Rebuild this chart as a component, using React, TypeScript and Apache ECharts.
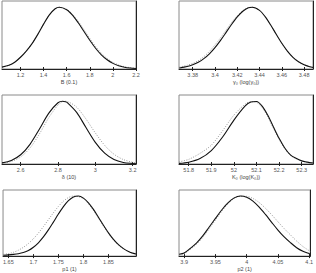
import React, { useEffect, useRef } from "react";
import * as echarts from "echarts";

// Panel 1: B (0.1)
const bX = [1.04, 1.1, 1.15, 1.2, 1.25, 1.3, 1.35, 1.4, 1.45, 1.5, 1.535, 1.6, 1.65, 1.7, 1.75, 1.8, 1.85, 1.9, 1.95, 2.0, 2.05, 2.1, 2.15, 2.2];
const bSolid = [0.03, 0.06, 0.11, 0.19, 0.29, 0.41, 0.56, 0.726, 0.876, 0.974, 1.0, 0.96, 0.872, 0.748, 0.607, 0.465, 0.336, 0.23, 0.149, 0.091, 0.052, 0.028, 0.015, 0.008];
const bDotted = [0.03, 0.06, 0.11, 0.19, 0.29, 0.41, 0.565, 0.73, 0.875, 0.97, 0.998, 0.965, 0.885, 0.77, 0.635, 0.495, 0.365, 0.255, 0.17, 0.108, 0.065, 0.038, 0.022, 0.012];
const bTicks = [1.2, 1.4, 1.6, 1.8, 2, 2.2];

// Panel 2: gamma0
const gX = [3.368, 3.375, 3.38, 3.385, 3.39, 3.395, 3.4, 3.405, 3.41, 3.415, 3.42, 3.425, 3.43, 3.4335, 3.44, 3.445, 3.45, 3.455, 3.46, 3.465, 3.47, 3.475, 3.48, 3.485, 3.488];
const gSolid = [0.017, 0.04, 0.067, 0.108, 0.167, 0.246, 0.346, 0.464, 0.593, 0.724, 0.842, 0.934, 0.99, 1.0, 0.949, 0.848, 0.712, 0.561, 0.416, 0.289, 0.189, 0.116, 0.067, 0.036, 0.024];
const gDotted = [0.03, 0.06, 0.09, 0.135, 0.2, 0.285, 0.39, 0.505, 0.63, 0.755, 0.86, 0.945, 0.992, 0.998, 0.945, 0.845, 0.71, 0.56, 0.415, 0.29, 0.19, 0.118, 0.07, 0.04, 0.027];
const gTicks = [3.38, 3.4, 3.42, 3.44, 3.46, 3.48];

// Panel 3: delta
const dX = [2.5, 2.55, 2.6, 2.65, 2.7, 2.75, 2.8, 2.825, 2.84, 2.85, 2.9, 2.95, 3.0, 3.05, 3.1, 3.15, 3.2, 3.218];
const dSolid = [0.018, 0.057, 0.147, 0.314, 0.554, 0.808, 0.977, 1.0, 0.992, 0.979, 0.823, 0.581, 0.345, 0.172, 0.072, 0.025, 0.008, 0.005];
const dDotted = [0.013, 0.042, 0.113, 0.255, 0.477, 0.736, 0.94, 0.994, 1.0, 0.997, 0.906, 0.717, 0.496, 0.298, 0.156, 0.071, 0.028, 0.02];
const dTicks = [2.6, 2.8, 3, 3.2];

// Panel 4: K0
const kX = [51.757, 51.8, 51.85, 51.9, 51.95, 52.0, 52.05, 52.075, 52.1, 52.125, 52.15, 52.175, 52.2, 52.225, 52.25, 52.275, 52.3, 52.325, 52.35];
const kSolid = [0.01, 0.029, 0.087, 0.214, 0.43, 0.7, 0.926, 0.987, 0.996, 0.923, 0.776, 0.59, 0.409, 0.256, 0.146, 0.09, 0.05, 0.03, 0.015];
const kDotted = [0.034, 0.074, 0.17, 0.3, 0.53, 0.78, 0.955, 0.995, 0.983, 0.9, 0.75, 0.565, 0.39, 0.245, 0.14, 0.086, 0.048, 0.028, 0.014];
const kTicks = [51.8, 51.9, 52, 52.1, 52.2, 52.3];

// Panel 5: p1
const p1X = [1.64, 1.65, 1.66, 1.67, 1.68, 1.69, 1.7, 1.71, 1.72, 1.73, 1.74, 1.75, 1.76, 1.77, 1.78, 1.79, 1.8, 1.81, 1.82, 1.83, 1.84, 1.85, 1.86, 1.87, 1.88, 1.89, 1.9, 1.905];
const p1Solid = [0.015, 0.02, 0.028, 0.04, 0.06, 0.093, 0.148, 0.222, 0.319, 0.436, 0.566, 0.7, 0.824, 0.923, 0.984, 0.999, 0.965, 0.887, 0.777, 0.647, 0.513, 0.387, 0.278, 0.19, 0.124, 0.077, 0.045, 0.035];
const p1Dotted = [0.03, 0.04, 0.063, 0.098, 0.146, 0.209, 0.288, 0.383, 0.491, 0.606, 0.721, 0.827, 0.914, 0.974, 0.999, 0.99, 0.955, 0.87, 0.76, 0.63, 0.5, 0.375, 0.27, 0.185, 0.12, 0.075, 0.044, 0.034];
const p1Ticks = [1.65, 1.7, 1.75, 1.8, 1.85];

// Panel 6: p2
const p2X = [3.892, 3.9, 3.91, 3.92, 3.93, 3.94, 3.95, 3.96, 3.97, 3.98, 3.99, 4.0, 4.01, 4.02, 4.03, 4.04, 4.05, 4.06, 4.07, 4.08, 4.09, 4.1, 4.1016];
const p2Solid = [0.03, 0.05, 0.13, 0.22, 0.34, 0.484, 0.627, 0.767, 0.887, 0.969, 1.0, 0.979, 0.915, 0.815, 0.693, 0.562, 0.434, 0.32, 0.225, 0.14, 0.08, 0.04, 0.035];
const p2Dotted = [0.025, 0.045, 0.115, 0.2, 0.315, 0.455, 0.6, 0.745, 0.87, 0.96, 0.997, 0.995, 0.959, 0.891, 0.797, 0.688, 0.572, 0.458, 0.353, 0.25, 0.16, 0.09, 0.08];
const p2Ticks = [3.9, 3.95, 4, 4.05, 4.1];

const panels = [
  { x: bX, solid: bSolid, dotted: bDotted, ticks: bTicks, min: 1.04, max: 2.2, name: "B (0.1)" },
  { x: gX, solid: gSolid, dotted: gDotted, ticks: gTicks, min: 3.3677, max: 3.488, name: "γ₀ (log(γ₀))" },
  { x: dX, solid: dSolid, dotted: dDotted, ticks: dTicks, min: 2.5, max: 3.218, name: "δ (10)" },
  { x: kX, solid: kSolid, dotted: kDotted, ticks: kTicks, min: 51.757, max: 52.35, name: "K₀ (log(K₀))" },
  { x: p1X, solid: p1Solid, dotted: p1Dotted, ticks: p1Ticks, min: 1.6394, max: 1.905, name: "p1 (1)" },
  { x: p2X, solid: p2Solid, dotted: p2Dotted, ticks: p2Ticks, min: 3.8917, max: 4.1016, name: "p2 (1)" },
];

const rowTops = [1, 95, 190];
const rowHeights = [68, 69, 67];
const colLefts = [2, 179];
const colWidth = 134;

export default function App() {
  const ref = useRef<HTMLDivElement>(null);
  useEffect(() => {
    if (!ref.current) return;
    const chart = echarts.init(ref.current, null, { renderer: "svg" });
    const grid: any[] = [];
    const xAxis: any[] = [];
    const yAxis: any[] = [];
    const series: any[] = [];
    panels.forEach((p, i) => {
      const r = Math.floor(i / 2);
      const c = i % 2;
      grid.push({
        left: colLefts[c],
        top: rowTops[r],
        width: colWidth,
        height: rowHeights[r],
        show: true,
        borderColor: "#8a8a8a",
        borderWidth: 1,
        containLabel: false,
      });
      xAxis.push({
        type: "value",
        gridIndex: i,
        min: p.min,
        max: p.max,
        position: "bottom",
        name: p.name,
        nameLocation: "middle",
        nameGap: 8,
        nameTextStyle: { fontSize: 5.5, color: "#444", fontFamily: "Liberation Sans" },
        axisLine: { show: true, onZero: false, lineStyle: { color: "#222", width: 1 } },
        axisTick: { show: true, inside: true, length: 2, customValues: p.ticks, lineStyle: { color: "#222" } },
        axisLabel: { show: true, customValues: p.ticks, margin: 3, fontSize: 5.5, color: "#555", fontFamily: "Liberation Sans" },
        splitLine: { show: false },
      });
      xAxis.push({
        type: "value",
        gridIndex: i,
        min: p.min,
        max: p.max,
        position: "top",
        axisLine: { show: false },
        axisTick: { show: true, inside: true, length: 2, customValues: p.ticks, lineStyle: { color: "#222" } },
        axisLabel: { show: false },
        splitLine: { show: false },
      });
      yAxis.push({
        type: "value",
        gridIndex: i,
        min: 0,
        max: 1.1,
        position: "right",
        axisLine: { show: true, lineStyle: { color: "#222", width: 1 } },
        axisTick: { show: false },
        axisLabel: { show: false },
        splitLine: { show: false },
      });
      series.push({
        type: "line",
        xAxisIndex: i * 2,
        yAxisIndex: i,
        data: p.x.map((v, k) => [v, p.dotted[k]]),
        smooth: 0.3,
        showSymbol: false,
        lineStyle: { color: "#999", width: 1, type: [1, 1.5] },
        z: 2,
      });
      series.push({
        type: "line",
        xAxisIndex: i * 2,
        yAxisIndex: i,
        data: p.x.map((v, k) => [v, p.solid[k]]),
        smooth: 0.3,
        showSymbol: false,
        lineStyle: { color: "#111", width: 1.1 },
        z: 3,
      });
    });
    chart.setOption({ animation: false, grid, xAxis, yAxis, series });
    return () => chart.dispose();
  }, []);
  return (
    <div
      ref={ref}
      style={{ position: "absolute", left: 0, top: 0, width: 316, height: 273, background: "#fff" }}
    />
  );
}
